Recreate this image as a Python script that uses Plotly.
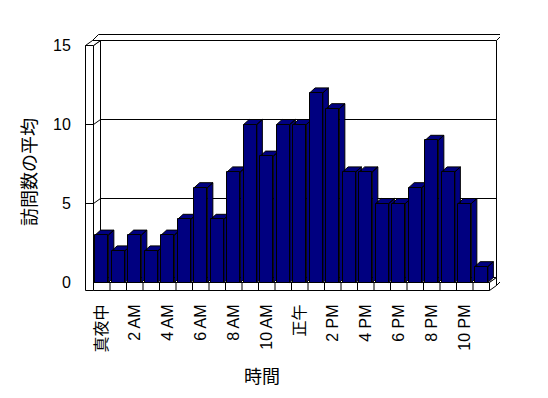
import plotly.graph_objects as go

# ---------------- data ----------------
hour_labels = ["真夜中", "1 AM", "2 AM", "3 AM", "4 AM", "5 AM", "6 AM", "7 AM",
               "8 AM", "9 AM", "10 AM", "11 AM", "正午", "1 PM", "2 PM", "3 PM",
               "4 PM", "5 PM", "6 PM", "7 PM", "8 PM", "9 PM", "10 PM", "11 PM"]
avg_visits = [3, 2, 3, 2, 3, 4, 6, 4, 7, 10, 8, 10,
              10, 12, 11, 7, 7, 5, 5, 6, 9, 7, 5, 1]
y_tick_values = [0, 5, 10, 15]
grid_values = [5, 10]
x_title = "時間"
y_title = "訪問数の平均"

# ---------------- geometry / style ----------------
NAVY = "#000080"
FONT = "Liberation Sans, Noto Sans CJK JP, sans-serif"
n = len(hour_labels)
xs = list(range(n))

PX_X = 16.5   # px per category
PX_Y = 15.8   # px per value unit
W = 0.8       # bar front width (category units)
BX, BY = 5.5 / PX_X, 5 / PX_Y      # bar depth offset
DX, DY = 7 / PX_X, 5 / PX_Y        # floor depth offset
TX, TY = 6 / PX_X, 6 / PX_Y        # back wall thickness
FL = -8 / PX_Y                     # floor thickness (below 0)
XL, XR = -0.5, n - 0.5
LW = XL - 8 / PX_X                 # left wall outer x
YTOP = 15

# page body has an 8px margin: figure is drawn 8px in from the window corner
OFF = 8
FIG_W, FIG_H = 548 - OFF, 398 - OFF
# plot area in figure pixels
PL, PR, PT, PB = 84 - OFF, 500 - OFF, 33 - OFF, 291 - OFF
X0PX, Y0PX = 93.5 - OFF, 282.5 - OFF   # pixel of x=-0.5 and y=0 (half px = crisp lines)
x_range = [XL - (X0PX - PL) / PX_X, XL + (PR - X0PX) / PX_X]
y_range = [-(PB - Y0PX) / PX_Y, (Y0PX - PT) / PX_Y]

LINE = dict(color="black", width=1)


def poly(pts, fill="white"):
    path = "M " + " L ".join(f"{x},{y}" for x, y in pts) + " Z"
    return dict(type="path", path=path, xref="x", yref="y",
                fillcolor=fill, line=LINE, layer="below")


def seg(x0, y0, x1, y1):
    return dict(type="line", x0=x0, y0=y0, x1=x1, y1=y1, xref="x", yref="y",
                line=LINE, layer="below")


shapes = []
# back wall: front surface, top face, right face
shapes.append(poly([(XL + DX, DY), (XR + DX, DY), (XR + DX, YTOP + DY), (XL + DX, YTOP + DY)]))
shapes.append(poly([(LW + DX, YTOP + DY), (XR + DX, YTOP + DY),
                    (XR + DX + TX, YTOP + DY + TY), (LW + DX + TX, YTOP + DY + TY)]))
shapes.append(poly([(XR + DX, YTOP + DY), (XR + DX + TX, YTOP + DY + TY),
                    (XR + DX + TX, FL + DY + TY), (XR + DX, FL + DY)]))
# left wall inner face
shapes.append(poly([(XL, 0), (XL, YTOP), (XL + DX, YTOP + DY), (XL + DX, DY)]))
# gridlines on back wall + diagonals on left wall inner face
for v in grid_values:
    shapes.append(seg(XL + DX, v + DY, XR + DX, v + DY))
    shapes.append(seg(XL, v, XL + DX, v + DY))
# floor: top face, front face, right end
shapes.append(poly([(XL, 0), (XR, 0), (XR + DX, DY), (XL + DX, DY)]))
shapes.append(poly([(XL, FL), (XR, FL), (XR, 0), (XL, 0)]))
for k in range(1, n):
    shapes.append(seg(k - 0.5, FL, k - 0.5, 0))
shapes.append(poly([(XR, FL), (XR + DX, FL + DY), (XR + DX, DY), (XR, 0)]))
# left wall: front face, top face, ticks
shapes.append(poly([(LW, FL), (XL, FL), (XL, YTOP), (LW, YTOP)]))
shapes.append(poly([(LW, YTOP), (XL, YTOP), (XL + DX, YTOP + DY), (LW + DX, YTOP + DY)]))
for v in grid_values:
    shapes.append(seg(LW, v, XL, v))

# 3D faces of bars (side + top), computed from the data
fx, fy = [], []
for i, h in zip(xs, avg_visits):
    r, l = i + W / 2, i - W / 2
    fx += [r, r, r + BX, r + BX, r, None]
    fy += [0, h, h + BY, BY, 0, None]
    fx += [l, l + BX, r + BX, r, l, None]
    fy += [h, h + BY, h + BY, h, h, None]

fig = go.Figure()
fig.add_trace(go.Scatter(x=fx, y=fy, mode="lines", fill="toself",
                         fillcolor=NAVY, line=LINE, hoverinfo="skip",
                         showlegend=False, xaxis="x", yaxis="y"))
fig.add_trace(go.Bar(x=xs, y=avg_visits, width=W,
                     marker=dict(color=NAVY, line=LINE),
                     showlegend=False, xaxis="x2", yaxis="y2"))

fig.update_layout(
    width=FIG_W, height=FIG_H,
    margin=dict(l=PL, r=FIG_W - PR, t=PT, b=FIG_H - PB, autoexpand=False),
    paper_bgcolor="white", plot_bgcolor="white",
    font=dict(family=FONT, size=16, color="black"),
    shapes=shapes,
    xaxis=dict(range=x_range, showgrid=False, zeroline=False, showline=False,
               automargin=False,
               tickmode="array", tickvals=xs[::2], ticktext=hour_labels[::2],
               tickangle=-90, ticks="outside", ticklen=6,
               tickcolor="rgba(0,0,0,0)", tickfont=dict(size=16, family=FONT)),
    yaxis=dict(range=y_range, showgrid=False, zeroline=False, showline=False,
               automargin=False,
               tickmode="array", tickvals=y_tick_values,
               ticks="outside", ticklen=9, tickcolor="rgba(0,0,0,0)",
               tickfont=dict(size=16, family=FONT)),
    xaxis2=dict(range=x_range, overlaying="x", visible=False, automargin=False),
    yaxis2=dict(range=y_range, overlaying="y", visible=False, automargin=False),
    bargap=0,
    annotations=[
        dict(text=x_title, xref="paper", yref="paper",
             x=(262 - OFF - PL) / (PR - PL), y=(PB - (377 - OFF)) / (PB - PT),
             showarrow=False, font=dict(size=18, family=FONT),
             xanchor="center", yanchor="middle"),
        dict(text=y_title, xref="paper", yref="paper",
             x=(30 - OFF - PL) / (PR - PL), y=(PB - (172 - OFF)) / (PB - PT),
             showarrow=False, textangle=-90, font=dict(size=18, family=FONT),
             xanchor="center", yanchor="middle"),
    ],
)

fig.write_html("out.html")
